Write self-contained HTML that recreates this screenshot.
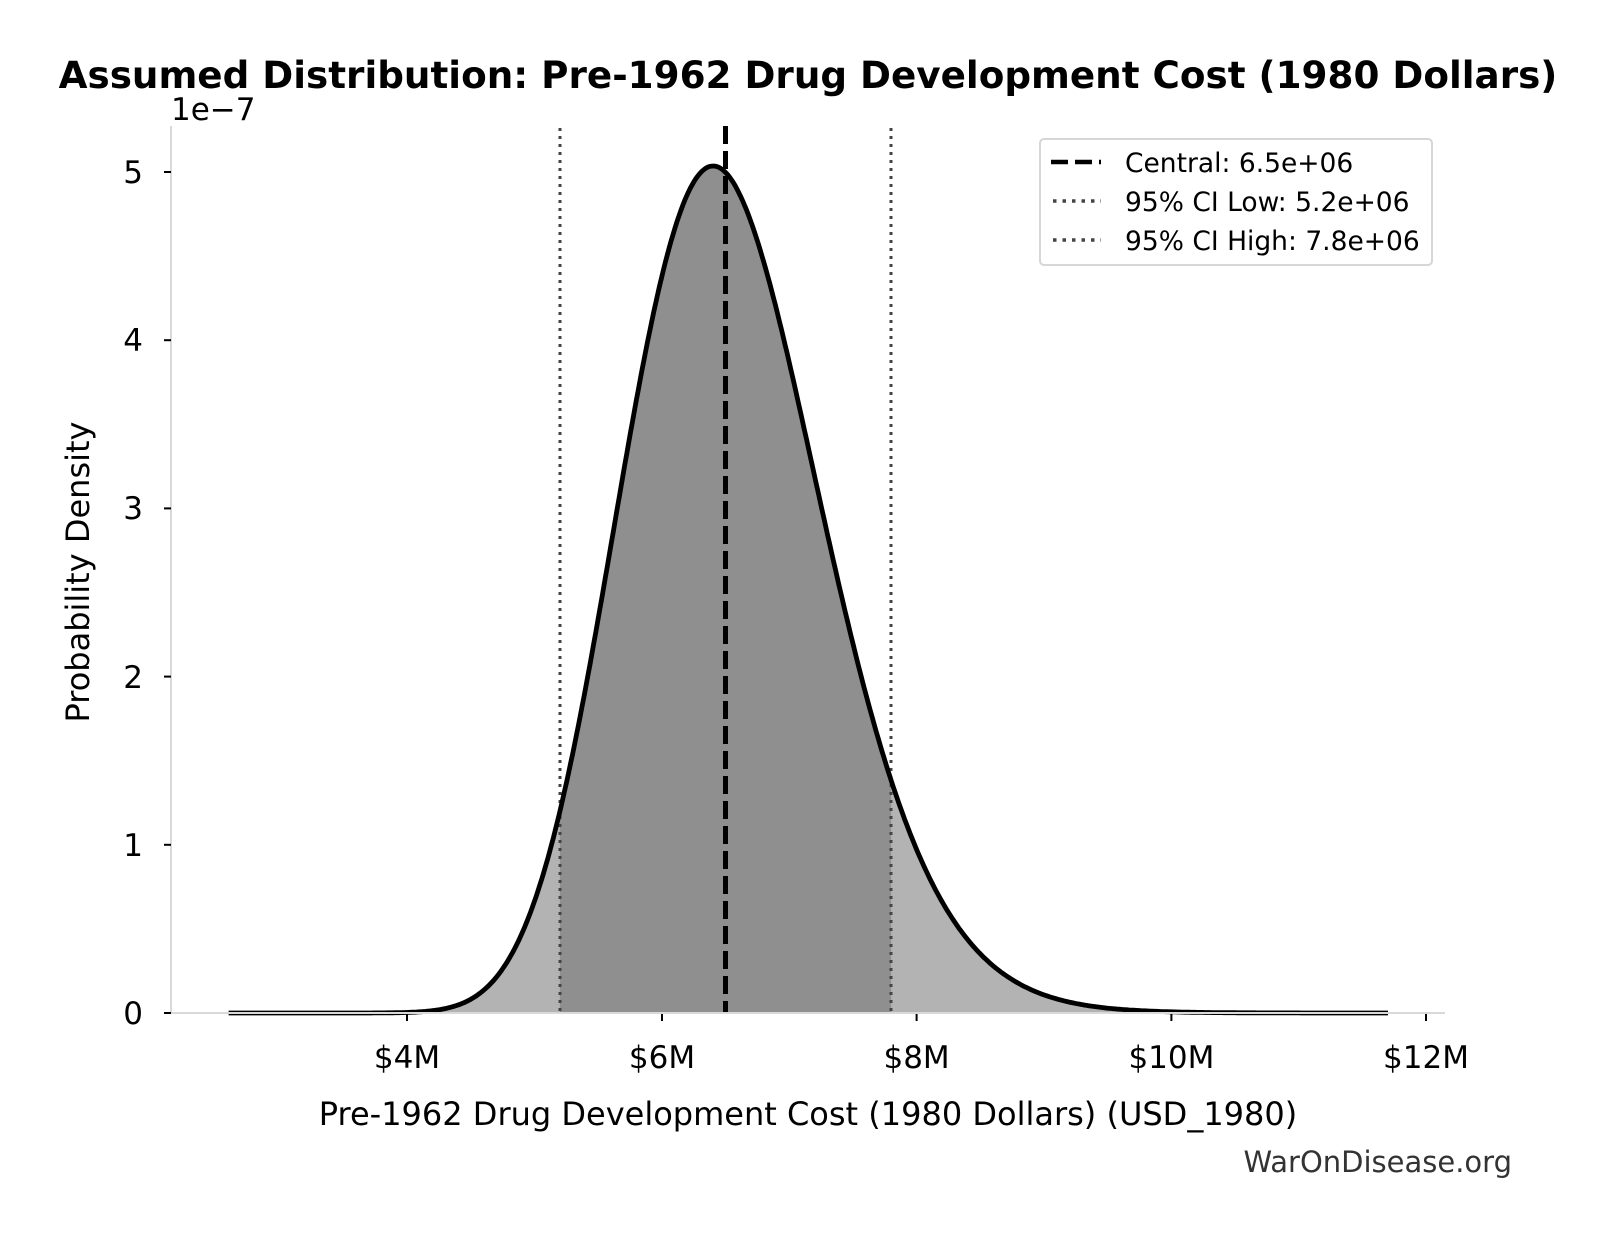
<!DOCTYPE html>
<html><head><meta charset="utf-8"><style>
body{margin:0;background:#fff;}
svg{display:block;font-family:"DejaVu Sans","Liberation Sans",sans-serif;}
</style></head><body>
<svg id="s" width="1616" height="1234" viewBox="0 0 1616 1234" xmlns="http://www.w3.org/2000/svg">
<rect width="1616" height="1234" fill="#fff"/>
<text x="808" y="88" text-anchor="middle" font-size="37.3" font-weight="bold">Assumed Distribution: Pre-1962 Drug Development Cost (1980 Dollars)</text>
<text x="171" y="120" font-size="31">1e−7</text>
<g id="fills"></g>
<line x1="560" y1="128" x2="560" y2="1013" stroke="#444" stroke-width="3" stroke-dasharray="3,5"/>
<line x1="891" y1="128" x2="891" y2="1013" stroke="#444" stroke-width="3" stroke-dasharray="3,5"/>
<line x1="725.5" y1="126" x2="725.5" y2="1013" stroke="#000" stroke-width="5" stroke-dasharray="18,7"/>
<path id="curve" fill="none" stroke="#000" stroke-width="4.8"/>
<line x1="171" y1="126" x2="171" y2="1013" stroke="#d9d9d9" stroke-width="2"/>
<line x1="171" y1="1013" x2="1445" y2="1013" stroke="#d9d9d9" stroke-width="2"/>
<g stroke="#000" stroke-width="2">
<line x1="164" y1="1013" x2="171" y2="1013"/><line x1="164" y1="844.8" x2="171" y2="844.8"/>
<line x1="164" y1="676.6" x2="171" y2="676.6"/><line x1="164" y1="508.4" x2="171" y2="508.4"/>
<line x1="164" y1="340.2" x2="171" y2="340.2"/><line x1="164" y1="172" x2="171" y2="172"/>
<line x1="407" y1="1014" x2="407" y2="1021"/><line x1="662" y1="1014" x2="662" y2="1021"/>
<line x1="916.6" y1="1014" x2="916.6" y2="1021"/><line x1="1171.4" y1="1014" x2="1171.4" y2="1021"/>
<line x1="1426" y1="1014" x2="1426" y2="1021"/>
</g>
<g font-size="31" text-anchor="end">
<text x="143" y="1024">0</text><text x="143" y="856">1</text><text x="143" y="688">2</text>
<text x="143" y="519">3</text><text x="143" y="351">4</text><text x="143" y="183">5</text>
</g>
<g font-size="31" text-anchor="middle">
<text x="407" y="1068">$4M</text><text x="662" y="1068">$6M</text><text x="916.6" y="1068">$8M</text>
<text x="1171.4" y="1068">$10M</text><text x="1426" y="1068">$12M</text>
</g>
<text x="808" y="1125" text-anchor="middle" font-size="32">Pre-1962 Drug Development Cost (1980 Dollars) (USD_1980)</text>
<text transform="translate(89,572) rotate(-90)" text-anchor="middle" font-size="32">Probability Density</text>
<text x="1512" y="1172" text-anchor="end" font-size="29" fill="#333">WarOnDisease.org</text>
<rect x="1040" y="139" width="392" height="126" rx="4" fill="#fff" fill-opacity="0.9" stroke="#d6d6d6" stroke-width="2"/>
<line x1="1051" y1="162" x2="1101" y2="162" stroke="#000" stroke-width="4.5" stroke-dasharray="17,7"/>
<line x1="1053" y1="201" x2="1101" y2="201" stroke="#444" stroke-width="3.5" stroke-dasharray="3.5,6"/>
<line x1="1053" y1="240" x2="1101" y2="240" stroke="#444" stroke-width="3.5" stroke-dasharray="3.5,6"/>
<g font-size="26.5"><text x="1125" y="172">Central: 6.5e+06</text><text x="1125" y="211">95% CI Low: 5.2e+06</text><text x="1125" y="250">95% CI High: 7.8e+06</text></g>
</svg>
<script>
(function(){
var mu=Math.log(6.5),s=0.1228;
function pdf(v){var z=(Math.log(v)-mu)/s;return Math.exp(-z*z/2)/(v*s*Math.sqrt(2*Math.PI));}
function X(v){return 407+(v-4)*127.4;}
function Y(d){return 1013-d*10*168.2;}
var pts=[],a=2.6,b=11.7,n=600;
for(var i=0;i<=n;i++){var v=a+(b-a)*i/n;pts.push([v,X(v),Y(pdf(v))]);}
var d=pts.map(function(p,i){return(i?"L":"M")+p[1].toFixed(1)+" "+p[2].toFixed(1);}).join("");
document.getElementById("curve").setAttribute("d",d);
function area(lo,hi,col){var q=[];for(var i=0;i<=300;i++){var v=lo+(hi-lo)*i/300;q.push(X(v).toFixed(1)+" "+Y(pdf(v)).toFixed(1));}
return '<path fill="'+col+'" d="M'+X(lo)+' 1013L'+q.join("L")+'L'+X(hi)+' 1013Z"/>';}
document.getElementById("fills").innerHTML=area(a,b,"#b3b3b3")+area(5.2,7.8,"#8f8f8f");
})();
</script>
</body></html>
